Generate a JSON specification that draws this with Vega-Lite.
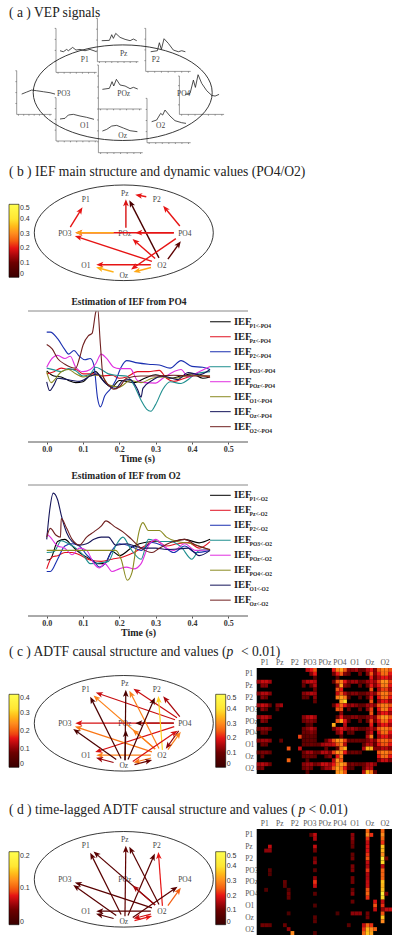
{
"$schema":"https://vega.github.io/schema/vega-lite/v6.json",
"padding":0,
"background":"white",
"bounds":"flush",
"spacing":0,
"config":{"view":{"stroke":null},"axis":{"grid":false}},
"datasets":{
"nodes":[{"ch":"P1","x":-38,"y":33},{"ch":"Pz","x":1,"y":39},{"ch":"P2","x":33,"y":33},{"ch":"PO3","x":-59,"y":-1},{"ch":"POz","x":1,"y":-1},{"ch":"PO4","x":61,"y":-1},{"ch":"O1","x":-38,"y":-33},{"ch":"Oz","x":0,"y":-43},{"ch":"O2","x":38,"y":-33}],
"chan":[{"ch":"P1","ox":-66.7,"oy":20.3,"L":122,"H":132},{"ch":"Pz","ox":-25.3,"oy":31,"L":123,"H":130},{"ch":"P2","ox":23,"oy":21.3,"L":135,"H":129},{"ch":"PO3","ox":-106,"oy":-21.7,"L":105,"H":131},{"ch":"POz","ox":-24.3,"oy":-16.3,"L":130,"H":132},{"ch":"PO4","ox":56.7,"oy":-21.7,"L":134,"H":115},{"ch":"O1","ox":-66.7,"oy":-48.3,"L":124,"H":130},{"ch":"O2","ox":24.3,"oy":-50,"L":131,"H":133},{"ch":"Oz","ox":-24.3,"oy":-60,"L":133,"H":131}],
"vep":[
{"ch":"P1","t":12,"v":65},{"ch":"P1","t":22,"v":62},{"ch":"P1","t":32,"v":69},{"ch":"P1","t":37,"v":65},{"ch":"P1","t":50,"v":75},{"ch":"P1","t":60,"v":67},{"ch":"P1","t":72,"v":69},{"ch":"P1","t":87,"v":65},{"ch":"P1","t":102,"v":69},{"ch":"P1","t":122,"v":62},
{"ch":"Pz","t":13,"v":63},{"ch":"Pz","t":36,"v":64},{"ch":"Pz","t":43,"v":81},{"ch":"Pz","t":48,"v":70},{"ch":"Pz","t":55,"v":85},{"ch":"Pz","t":68,"v":73},{"ch":"Pz","t":83,"v":67},{"ch":"Pz","t":98,"v":63},{"ch":"Pz","t":108,"v":68},{"ch":"Pz","t":118,"v":63},
{"ch":"P2","t":15,"v":59},{"ch":"P2","t":35,"v":62},{"ch":"P2","t":41,"v":86},{"ch":"P2","t":47,"v":66},{"ch":"P2","t":55,"v":98},{"ch":"P2","t":68,"v":84},{"ch":"P2","t":83,"v":64},{"ch":"P2","t":98,"v":59},{"ch":"P2","t":108,"v":62},{"ch":"P2","t":119,"v":59},
{"ch":"PO3","t":15,"v":61},{"ch":"PO3","t":30,"v":67},{"ch":"PO3","t":45,"v":73},{"ch":"PO3","t":60,"v":71},{"ch":"PO3","t":80,"v":68},{"ch":"PO3","t":100,"v":65},{"ch":"PO3","t":115,"v":61},
{"ch":"POz","t":12,"v":59},{"ch":"POz","t":33,"v":62},{"ch":"POz","t":41,"v":82},{"ch":"POz","t":46,"v":69},{"ch":"POz","t":54,"v":89},{"ch":"POz","t":65,"v":72},{"ch":"POz","t":80,"v":69},{"ch":"POz","t":95,"v":61},{"ch":"POz","t":105,"v":65},{"ch":"POz","t":118,"v":60},
{"ch":"PO4","t":17,"v":60},{"ch":"PO4","t":32,"v":63},{"ch":"PO4","t":42,"v":103},{"ch":"PO4","t":48,"v":81},{"ch":"PO4","t":56,"v":119},{"ch":"PO4","t":67,"v":93},{"ch":"PO4","t":82,"v":71},{"ch":"PO4","t":97,"v":57},{"ch":"PO4","t":107,"v":55},{"ch":"PO4","t":119,"v":60},
{"ch":"O1","t":12,"v":66},{"ch":"O1","t":27,"v":68},{"ch":"O1","t":37,"v":78},{"ch":"O1","t":52,"v":80},{"ch":"O1","t":72,"v":75},{"ch":"O1","t":92,"v":71},{"ch":"O1","t":114,"v":65},
{"ch":"O2","t":14,"v":63},{"ch":"O2","t":29,"v":68},{"ch":"O2","t":41,"v":88},{"ch":"O2","t":47,"v":83},{"ch":"O2","t":54,"v":98},{"ch":"O2","t":69,"v":80},{"ch":"O2","t":84,"v":66},{"ch":"O2","t":104,"v":60},{"ch":"O2","t":117,"v":58},
{"ch":"Oz","t":12,"v":65},{"ch":"Oz","t":25,"v":70},{"ch":"Oz","t":40,"v":80},{"ch":"Oz","t":55,"v":82},{"ch":"Oz","t":75,"v":74},{"ch":"Oz","t":95,"v":66},{"ch":"Oz","t":117,"v":63}],
"e_b":[{"from":"PO3","to":"P1","v":0.2},{"from":"POz","to":"Pz","v":0.19},{"from":"O2","to":"Pz","v":0.04},{"from":"P2","to":"Pz","v":0.2},{"from":"PO4","to":"P2","v":0.2},{"from":"PO4","to":"PO3","v":0.2},{"from":"POz","to":"PO3","v":0.33},{"from":"PO4","to":"POz","v":0.2},{"from":"O2","to":"PO3","v":0.2},{"from":"O2","to":"POz","v":0.2},{"from":"PO4","to":"Oz","v":0.2},{"from":"O2","to":"PO4","v":0.07},{"from":"O2","to":"O1","v":0.2},{"from":"O2","to":"Oz","v":0.33},{"from":"Oz","to":"O1","v":0.34}],
"e_c":[{"from":"PO4","to":"P1","v":0.14},{"from":"PO4","to":"Pz","v":0.14},{"from":"PO4","to":"P2","v":0.12},{"from":"PO4","to":"POz","v":0.03},{"from":"PO4","to":"PO3","v":0.15},{"from":"PO4","to":"O1","v":0.15},{"from":"PO4","to":"O2","v":0.1},{"from":"O2","to":"PO4","v":0.23},{"from":"O2","to":"P2","v":0.3},{"from":"O2","to":"Pz","v":0.23},{"from":"O2","to":"POz","v":0.23},{"from":"O2","to":"P1","v":0.23},{"from":"O2","to":"PO3","v":0.22},{"from":"O2","to":"O1","v":0.23},{"from":"O2","to":"Oz","v":0.22},{"from":"Oz","to":"PO3","v":0.03},{"from":"Oz","to":"P1","v":0.03},{"from":"Oz","to":"Pz","v":0.03},{"from":"Oz","to":"P2","v":0.03},{"from":"Oz","to":"POz","v":0.02},{"from":"Oz","to":"PO4","v":0.15},{"from":"Oz","to":"O2","v":0.07},{"from":"Oz","to":"O1","v":0.11}],
"e_d":[{"from":"Oz","to":"P1","v":0.025},{"from":"Oz","to":"Pz","v":0.03},{"from":"Oz","to":"P2","v":0.025},{"from":"Oz","to":"PO3","v":0.025},{"from":"O2","to":"PO3","v":0.025},{"from":"O2","to":"P1","v":0.025},{"from":"O2","to":"Pz","v":0.025},{"from":"O2","to":"POz","v":0.06},{"from":"O2","to":"P2","v":0.08},{"from":"O2","to":"PO4","v":0.1},{"from":"Oz","to":"PO4","v":0.025},{"from":"Oz","to":"O1","v":0.025},{"from":"O2","to":"O1","v":0.025},{"from":"Oz","to":"O2","v":0.08},{"from":"O2","to":"Oz","v":0.07}],
"po4":[
{"s":"P1","t":0,"v":0.12},{"s":"P1","t":0.02,"v":0},{"s":"P1","t":0.04,"v":-0.02},{"s":"P1","t":0.06,"v":-0.1},{"s":"P1","t":0.08,"v":-0.15},{"s":"P1","t":0.1,"v":-0.13},{"s":"P1","t":0.12,"v":0.03},{"s":"P1","t":0.135,"v":0.1},{"s":"P1","t":0.15,"v":-0.05},{"s":"P1","t":0.18,"v":-0.25},{"s":"P1","t":0.2,"v":-0.1},{"s":"P1","t":0.24,"v":-0.15},{"s":"P1","t":0.27,"v":-0.05},{"s":"P1","t":0.3,"v":0.03},{"s":"P1","t":0.34,"v":-0.05},{"s":"P1","t":0.37,"v":0},{"s":"P1","t":0.4,"v":0.05},{"s":"P1","t":0.43,"v":-0.05},{"s":"P1","t":0.45,"v":-0.02},
{"s":"Pz","t":0,"v":0.05},{"s":"Pz","t":0.02,"v":0.1},{"s":"Pz","t":0.04,"v":0.18},{"s":"Pz","t":0.06,"v":0.15},{"s":"Pz","t":0.08,"v":0.15},{"s":"Pz","t":0.1,"v":0.05},{"s":"Pz","t":0.13,"v":0.05},{"s":"Pz","t":0.15,"v":0},{"s":"Pz","t":0.18,"v":0.02},{"s":"Pz","t":0.2,"v":-0.05},{"s":"Pz","t":0.22,"v":-0.02},{"s":"Pz","t":0.25,"v":0.1},{"s":"Pz","t":0.28,"v":0.1},{"s":"Pz","t":0.31,"v":0.13},{"s":"Pz","t":0.33,"v":-0.05},{"s":"Pz","t":0.35,"v":-0.12},{"s":"Pz","t":0.38,"v":-0.05},{"s":"Pz","t":0.41,"v":0.02},{"s":"Pz","t":0.45,"v":-0.02},
{"s":"P2","t":0,"v":1},{"s":"P2","t":0.01,"v":1},{"s":"P2","t":0.03,"v":0.85},{"s":"P2","t":0.05,"v":0.6},{"s":"P2","t":0.06,"v":0.5},{"s":"P2","t":0.075,"v":0.58},{"s":"P2","t":0.09,"v":0.45},{"s":"P2","t":0.105,"v":0.37},{"s":"P2","t":0.12,"v":0.4},{"s":"P2","t":0.13,"v":0.25},{"s":"P2","t":0.14,"v":-0.5},{"s":"P2","t":0.148,"v":-0.7},{"s":"P2","t":0.16,"v":-0.45},{"s":"P2","t":0.175,"v":-0.3},{"s":"P2","t":0.19,"v":-0.1},{"s":"P2","t":0.205,"v":0.2},{"s":"P2","t":0.22,"v":0.35},{"s":"P2","t":0.25,"v":0.3},{"s":"P2","t":0.28,"v":0.27},{"s":"P2","t":0.31,"v":0.25},{"s":"P2","t":0.34,"v":0.18},{"s":"P2","t":0.37,"v":0.35},{"s":"P2","t":0.4,"v":0.22},{"s":"P2","t":0.43,"v":0.2},{"s":"P2","t":0.45,"v":0.15},
{"s":"PO3","t":0,"v":0.18},{"s":"PO3","t":0.02,"v":0.14},{"s":"PO3","t":0.04,"v":0.1},{"s":"PO3","t":0.06,"v":0.17},{"s":"PO3","t":0.08,"v":0.12},{"s":"PO3","t":0.1,"v":0},{"s":"PO3","t":0.12,"v":0.05},{"s":"PO3","t":0.135,"v":0.2},{"s":"PO3","t":0.15,"v":0.15},{"s":"PO3","t":0.17,"v":0.05},{"s":"PO3","t":0.19,"v":0.02},{"s":"PO3","t":0.22,"v":0},{"s":"PO3","t":0.24,"v":-0.2},{"s":"PO3","t":0.26,"v":-0.55},{"s":"PO3","t":0.275,"v":-0.75},{"s":"PO3","t":0.287,"v":-0.8},{"s":"PO3","t":0.3,"v":-0.65},{"s":"PO3","t":0.32,"v":-0.3},{"s":"PO3","t":0.34,"v":-0.13},{"s":"PO3","t":0.37,"v":-0.17},{"s":"PO3","t":0.39,"v":-0.08},{"s":"PO3","t":0.41,"v":0.05},{"s":"PO3","t":0.45,"v":0.1},
{"s":"POz","t":0,"v":0.2},{"s":"POz","t":0.01,"v":0.35},{"s":"POz","t":0.03,"v":0.47},{"s":"POz","t":0.05,"v":0.4},{"s":"POz","t":0.065,"v":0.45},{"s":"POz","t":0.08,"v":0.2},{"s":"POz","t":0.1,"v":0.1},{"s":"POz","t":0.12,"v":0.15},{"s":"POz","t":0.135,"v":0.28},{"s":"POz","t":0.15,"v":0.5},{"s":"POz","t":0.165,"v":0.4},{"s":"POz","t":0.185,"v":0.2},{"s":"POz","t":0.2,"v":0.17},{"s":"POz","t":0.23,"v":0.17},{"s":"POz","t":0.25,"v":-0.1},{"s":"POz","t":0.27,"v":-0.15},{"s":"POz","t":0.3,"v":-0.16},{"s":"POz","t":0.32,"v":-0.05},{"s":"POz","t":0.35,"v":0.1},{"s":"POz","t":0.37,"v":0.15},{"s":"POz","t":0.39,"v":-0.02},{"s":"POz","t":0.42,"v":0.1},{"s":"POz","t":0.45,"v":0.22},
{"s":"O1","t":0,"v":0.1},{"s":"O1","t":0.012,"v":-0.15},{"s":"O1","t":0.025,"v":-0.05},{"s":"O1","t":0.04,"v":0.1},{"s":"O1","t":0.06,"v":0.15},{"s":"O1","t":0.08,"v":0.05},{"s":"O1","t":0.1,"v":-0.02},{"s":"O1","t":0.13,"v":0.02},{"s":"O1","t":0.15,"v":0.02},{"s":"O1","t":0.17,"v":-0.2},{"s":"O1","t":0.2,"v":-0.25},{"s":"O1","t":0.23,"v":-0.1},{"s":"O1","t":0.26,"v":-0.15},{"s":"O1","t":0.29,"v":-0.05},{"s":"O1","t":0.32,"v":-0.02},{"s":"O1","t":0.35,"v":-0.05},{"s":"O1","t":0.4,"v":0.02},{"s":"O1","t":0.45,"v":0},
{"s":"Oz","t":0,"v":-0.13},{"s":"Oz","t":0.008,"v":-0.33},{"s":"Oz","t":0.02,"v":-0.2},{"s":"Oz","t":0.03,"v":-0.05},{"s":"Oz","t":0.05,"v":-0.07},{"s":"Oz","t":0.07,"v":-0.1},{"s":"Oz","t":0.09,"v":-0.12},{"s":"Oz","t":0.12,"v":0},{"s":"Oz","t":0.14,"v":0.05},{"s":"Oz","t":0.16,"v":-0.15},{"s":"Oz","t":0.19,"v":-0.28},{"s":"Oz","t":0.21,"v":-0.1},{"s":"Oz","t":0.23,"v":-0.08},{"s":"Oz","t":0.25,"v":-0.3},{"s":"Oz","t":0.26,"v":-0.48},{"s":"Oz","t":0.265,"v":-0.28},{"s":"Oz","t":0.29,"v":-0.1},{"s":"Oz","t":0.32,"v":0},{"s":"Oz","t":0.36,"v":-0.08},{"s":"Oz","t":0.39,"v":0.08},{"s":"Oz","t":0.42,"v":0.03},{"s":"Oz","t":0.45,"v":0.15},
{"s":"O2","t":0,"v":0.72},{"s":"O2","t":0.015,"v":0.62},{"s":"O2","t":0.03,"v":0.4},{"s":"O2","t":0.05,"v":0.27},{"s":"O2","t":0.08,"v":0.18},{"s":"O2","t":0.09,"v":0.4},{"s":"O2","t":0.1,"v":0.7},{"s":"O2","t":0.115,"v":0.92},{"s":"O2","t":0.125,"v":0.97},{"s":"O2","t":0.135,"v":1.45},{"s":"O2","t":0.14,"v":1.55},{"s":"O2","t":0.148,"v":0.7},{"s":"O2","t":0.155,"v":0},{"s":"O2","t":0.17,"v":-0.2},{"s":"O2","t":0.185,"v":-0.3},{"s":"O2","t":0.2,"v":-0.25},{"s":"O2","t":0.22,"v":-0.05},{"s":"O2","t":0.26,"v":0},{"s":"O2","t":0.3,"v":0},{"s":"O2","t":0.35,"v":0.02},{"s":"O2","t":0.4,"v":0},{"s":"O2","t":0.45,"v":0}],
"o2":[
{"s":"P1","t":0,"v":-0.22},{"s":"P1","t":0.01,"v":-0.2},{"s":"P1","t":0.03,"v":0.2},{"s":"P1","t":0.05,"v":0.25},{"s":"P1","t":0.07,"v":0.1},{"s":"P1","t":0.09,"v":-0.05},{"s":"P1","t":0.12,"v":-0.2},{"s":"P1","t":0.14,"v":-0.3},{"s":"P1","t":0.16,"v":-0.3},{"s":"P1","t":0.18,"v":-0.02},{"s":"P1","t":0.2,"v":-0.12},{"s":"P1","t":0.24,"v":0.1},{"s":"P1","t":0.27,"v":0.18},{"s":"P1","t":0.3,"v":0.2},{"s":"P1","t":0.34,"v":0.2},{"s":"P1","t":0.38,"v":0.25},{"s":"P1","t":0.42,"v":0.17},{"s":"P1","t":0.45,"v":0.25},
{"s":"Pz","t":0,"v":-0.42},{"s":"Pz","t":0.015,"v":-0.15},{"s":"Pz","t":0.03,"v":-0.12},{"s":"Pz","t":0.05,"v":-0.05},{"s":"Pz","t":0.07,"v":-0.05},{"s":"Pz","t":0.09,"v":-0.1},{"s":"Pz","t":0.12,"v":-0.22},{"s":"Pz","t":0.15,"v":-0.25},{"s":"Pz","t":0.18,"v":-0.2},{"s":"Pz","t":0.21,"v":-0.15},{"s":"Pz","t":0.24,"v":-0.05},{"s":"Pz","t":0.27,"v":0.1},{"s":"Pz","t":0.3,"v":0.22},{"s":"Pz","t":0.33,"v":0.1},{"s":"Pz","t":0.36,"v":0.15},{"s":"Pz","t":0.39,"v":0.18},{"s":"Pz","t":0.42,"v":0.05},{"s":"Pz","t":0.45,"v":0.2},
{"s":"P2","t":0,"v":-0.48},{"s":"P2","t":0.01,"v":-0.48},{"s":"P2","t":0.03,"v":-0.2},{"s":"P2","t":0.05,"v":0.1},{"s":"P2","t":0.07,"v":0.15},{"s":"P2","t":0.09,"v":0.1},{"s":"P2","t":0.11,"v":-0.1},{"s":"P2","t":0.13,"v":-0.25},{"s":"P2","t":0.145,"v":-0.38},{"s":"P2","t":0.165,"v":-0.25},{"s":"P2","t":0.18,"v":0},{"s":"P2","t":0.2,"v":0.15},{"s":"P2","t":0.23,"v":0.1},{"s":"P2","t":0.26,"v":0},{"s":"P2","t":0.29,"v":0.18},{"s":"P2","t":0.32,"v":0.1},{"s":"P2","t":0.35,"v":-0.05},{"s":"P2","t":0.38,"v":0.1},{"s":"P2","t":0.41,"v":-0.05},{"s":"P2","t":0.45,"v":0},
{"s":"PO3","t":0,"v":-0.05},{"s":"PO3","t":0.02,"v":-0.03},{"s":"PO3","t":0.04,"v":0.22},{"s":"PO3","t":0.06,"v":0.15},{"s":"PO3","t":0.08,"v":0.05},{"s":"PO3","t":0.1,"v":-0.1},{"s":"PO3","t":0.12,"v":-0.3},{"s":"PO3","t":0.15,"v":-0.28},{"s":"PO3","t":0.17,"v":-0.25},{"s":"PO3","t":0.19,"v":0.1},{"s":"PO3","t":0.21,"v":0.3},{"s":"PO3","t":0.23,"v":0.05},{"s":"PO3","t":0.26,"v":-0.2},{"s":"PO3","t":0.28,"v":0.25},{"s":"PO3","t":0.31,"v":0.2},{"s":"PO3","t":0.34,"v":0.2},{"s":"PO3","t":0.37,"v":0.08},{"s":"PO3","t":0.4,"v":-0.2},{"s":"PO3","t":0.42,"v":0},{"s":"PO3","t":0.45,"v":0.02},
{"s":"POz","t":0,"v":0.38},{"s":"POz","t":0.01,"v":0.3},{"s":"POz","t":0.03,"v":0.1},{"s":"POz","t":0.05,"v":0.05},{"s":"POz","t":0.07,"v":-0.1},{"s":"POz","t":0.09,"v":0.05},{"s":"POz","t":0.11,"v":0},{"s":"POz","t":0.13,"v":-0.3},{"s":"POz","t":0.145,"v":-0.4},{"s":"POz","t":0.16,"v":-0.3},{"s":"POz","t":0.18,"v":-0.48},{"s":"POz","t":0.2,"v":-0.42},{"s":"POz","t":0.22,"v":-0.38},{"s":"POz","t":0.24,"v":-0.42},{"s":"POz","t":0.26,"v":-0.3},{"s":"POz","t":0.28,"v":0.1},{"s":"POz","t":0.3,"v":0.25},{"s":"POz","t":0.33,"v":0.05},{"s":"POz","t":0.35,"v":0},{"s":"POz","t":0.38,"v":0.15},{"s":"POz","t":0.41,"v":0},{"s":"POz","t":0.45,"v":0.02},
{"s":"PO4","t":0,"v":0},{"s":"PO4","t":0.1,"v":0},{"s":"PO4","t":0.19,"v":0},{"s":"PO4","t":0.205,"v":-0.2},{"s":"PO4","t":0.222,"v":-0.68},{"s":"PO4","t":0.235,"v":-0.5},{"s":"PO4","t":0.245,"v":0},{"s":"PO4","t":0.255,"v":0.45},{"s":"PO4","t":0.265,"v":0.63},{"s":"PO4","t":0.28,"v":0.45},{"s":"PO4","t":0.31,"v":0.45},{"s":"PO4","t":0.33,"v":0.3},{"s":"PO4","t":0.36,"v":0.2},{"s":"PO4","t":0.4,"v":0.15},{"s":"PO4","t":0.45,"v":0},
{"s":"O1","t":0,"v":0.25},{"s":"O1","t":0.008,"v":0.9},{"s":"O1","t":0.018,"v":1.3},{"s":"O1","t":0.03,"v":1.15},{"s":"O1","t":0.04,"v":0.8},{"s":"O1","t":0.055,"v":0.4},{"s":"O1","t":0.07,"v":0.2},{"s":"O1","t":0.09,"v":0.12},{"s":"O1","t":0.11,"v":0.15},{"s":"O1","t":0.13,"v":0.25},{"s":"O1","t":0.15,"v":0.3},{"s":"O1","t":0.17,"v":0.3},{"s":"O1","t":0.19,"v":0.12},{"s":"O1","t":0.22,"v":0.15},{"s":"O1","t":0.25,"v":0.08},{"s":"O1","t":0.27,"v":0.05},{"s":"O1","t":0.3,"v":0.05},{"s":"O1","t":0.33,"v":0.02},{"s":"O1","t":0.36,"v":0.03},{"s":"O1","t":0.39,"v":0.05},{"s":"O1","t":0.42,"v":-0.12},{"s":"O1","t":0.45,"v":0},
{"s":"Oz","t":0,"v":0.3},{"s":"Oz","t":0.01,"v":0.5},{"s":"Oz","t":0.025,"v":0.35},{"s":"Oz","t":0.038,"v":0.3},{"s":"Oz","t":0.04,"v":0.72},{"s":"Oz","t":0.055,"v":0.5},{"s":"Oz","t":0.07,"v":0.25},{"s":"Oz","t":0.09,"v":0.12},{"s":"Oz","t":0.11,"v":0.3},{"s":"Oz","t":0.13,"v":0.42},{"s":"Oz","t":0.15,"v":0.55},{"s":"Oz","t":0.163,"v":0.67},{"s":"Oz","t":0.185,"v":0.55},{"s":"Oz","t":0.21,"v":0.42},{"s":"Oz","t":0.23,"v":0.28},{"s":"Oz","t":0.26,"v":0.05},{"s":"Oz","t":0.29,"v":-0.05},{"s":"Oz","t":0.31,"v":0.05},{"s":"Oz","t":0.35,"v":0.2},{"s":"Oz","t":0.38,"v":0.25},{"s":"Oz","t":0.41,"v":0.12},{"s":"Oz","t":0.45,"v":0.02}],
"leg1":[{"s":"P1","sub":"P1<-PO4","v":1.235},{"s":"Pz","sub":"Pz<-PO4","v":0.894},{"s":"P2","sub":"P2<-PO4","v":0.553},{"s":"PO3","sub":"PO3<-PO4","v":0.212},{"s":"POz","sub":"POz<-PO4","v":-0.129},{"s":"O1","sub":"O1<-PO4","v":-0.47},{"s":"Oz","sub":"Oz<-PO4","v":-0.81},{"s":"O2","sub":"O2<-PO4","v":-1.152}],
"leg2":[{"s":"P1","sub":"P1<-O2","v":1.25},{"s":"Pz","sub":"Pz<-O2","v":0.91},{"s":"P2","sub":"P2<-O2","v":0.57},{"s":"PO3","sub":"PO3<-O2","v":0.23},{"s":"POz","sub":"POz<-O2","v":-0.11},{"s":"PO4","sub":"PO4<-O2","v":-0.45},{"s":"O1","sub":"O1<-O2","v":-0.79},{"s":"Oz","sub":"Oz<-O2","v":-1.13}],
"hc":[
{"x":13,"y":0,"v":0.2},{"x":14,"y":0,"v":0.25},{"x":15,"y":0,"v":0.3},{"x":14,"y":1,"v":0.15},{"x":15,"y":1,"v":0.25},{"x":15,"y":2,"v":0.08},
{"x":20,"y":0,"v":0.25},{"x":21,"y":0,"v":0.35},{"x":22,"y":0,"v":0.4},{"x":23,"y":0,"v":0.3},{"x":20,"y":1,"v":0.12},{"x":21,"y":1,"v":0.25},{"x":22,"y":1,"v":0.3},{"x":23,"y":1,"v":0.15},{"x":21,"y":2,"v":0.08},
{"x":24,"y":0,"v":0.15},{"x":25,"y":0,"v":0.15},{"x":26,"y":0,"v":0.18},{"x":27,"y":0,"v":0.1},{"x":24,"y":1,"v":0.1},{"x":27,"y":1,"v":0.12},
{"x":28,"y":0,"v":0.1},{"x":29,"y":0,"v":0.2},{"x":30,"y":0,"v":0.25},{"x":31,"y":0,"v":0.15},{"x":29,"y":1,"v":0.15},{"x":30,"y":1,"v":0.3},{"x":31,"y":1,"v":0.15},{"x":30,"y":2,"v":0.25},{"x":31,"y":2,"v":0.1},
{"x":32,"y":0,"v":0.3},{"x":33,"y":0,"v":0.35},{"x":34,"y":0,"v":0.35},{"x":35,"y":0,"v":0.3},{"x":32,"y":1,"v":0.25},{"x":33,"y":1,"v":0.33},{"x":34,"y":1,"v":0.33},{"x":35,"y":1,"v":0.25},{"x":32,"y":2,"v":0.2},{"x":33,"y":2,"v":0.25},{"x":34,"y":2,"v":0.25},{"x":35,"y":2,"v":0.2},
{"x":0,"y":3,"v":0.18},{"x":1,"y":3,"v":0.22},{"x":2,"y":3,"v":0.22},{"x":3,"y":3,"v":0.18},{"x":1,"y":4,"v":0.15},{"x":2,"y":4,"v":0.15},
{"x":12,"y":3,"v":0.15},{"x":13,"y":3,"v":0.2},{"x":14,"y":3,"v":0.22},{"x":15,"y":3,"v":0.2},{"x":12,"y":4,"v":0.1},{"x":14,"y":4,"v":0.1},{"x":15,"y":4,"v":0.2},{"x":15,"y":5,"v":0.12},
{"x":20,"y":3,"v":0.1},{"x":21,"y":3,"v":0.3},{"x":22,"y":3,"v":0.35},{"x":23,"y":3,"v":0.25},{"x":21,"y":4,"v":0.15},{"x":22,"y":4,"v":0.4},{"x":23,"y":4,"v":0.15},{"x":21,"y":5,"v":0.3},{"x":22,"y":5,"v":0.25},
{"x":24,"y":3,"v":0.15},{"x":25,"y":3,"v":0.18},{"x":26,"y":3,"v":0.18},{"x":27,"y":3,"v":0.1},{"x":24,"y":4,"v":0.1},{"x":27,"y":4,"v":0.1},
{"x":28,"y":3,"v":0.12},{"x":29,"y":3,"v":0.18},{"x":30,"y":3,"v":0.22},{"x":31,"y":3,"v":0.18},{"x":29,"y":4,"v":0.12},{"x":30,"y":4,"v":0.25},{"x":31,"y":4,"v":0.15},{"x":30,"y":5,"v":0.3},
{"x":32,"y":3,"v":0.28},{"x":33,"y":3,"v":0.38},{"x":34,"y":3,"v":0.38},{"x":35,"y":3,"v":0.28},{"x":32,"y":4,"v":0.25},{"x":33,"y":4,"v":0.35},{"x":34,"y":4,"v":0.35},{"x":35,"y":4,"v":0.25},{"x":32,"y":5,"v":0.2},{"x":33,"y":5,"v":0.28},{"x":34,"y":5,"v":0.28},{"x":35,"y":5,"v":0.2},
{"x":0,"y":6,"v":0.15},{"x":1,"y":6,"v":0.2},{"x":2,"y":6,"v":0.2},{"x":3,"y":6,"v":0.15},{"x":1,"y":7,"v":0.15},{"x":2,"y":7,"v":0.12},
{"x":12,"y":6,"v":0.15},{"x":13,"y":6,"v":0.18},{"x":14,"y":6,"v":0.2},{"x":15,"y":6,"v":0.18},{"x":12,"y":7,"v":0.1},{"x":13,"y":7,"v":0.1},{"x":15,"y":7,"v":0.15},{"x":15,"y":8,"v":0.1},
{"x":21,"y":6,"v":0.22},{"x":22,"y":6,"v":0.3},{"x":23,"y":6,"v":0.2},{"x":21,"y":7,"v":0.35},{"x":22,"y":7,"v":0.4},{"x":23,"y":7,"v":0.35},{"x":22,"y":8,"v":0.4},{"x":23,"y":8,"v":0.48},
{"x":24,"y":6,"v":0.12},{"x":25,"y":6,"v":0.15},{"x":26,"y":6,"v":0.15},{"x":27,"y":6,"v":0.1},{"x":24,"y":7,"v":0.08},{"x":27,"y":7,"v":0.08},
{"x":28,"y":6,"v":0.1},{"x":29,"y":6,"v":0.15},{"x":30,"y":6,"v":0.2},{"x":31,"y":6,"v":0.15},{"x":29,"y":7,"v":0.1},{"x":30,"y":7,"v":0.25},{"x":30,"y":8,"v":0.3},
{"x":32,"y":6,"v":0.28},{"x":33,"y":6,"v":0.35},{"x":34,"y":6,"v":0.35},{"x":35,"y":6,"v":0.28},{"x":32,"y":7,"v":0.25},{"x":33,"y":7,"v":0.33},{"x":34,"y":7,"v":0.33},{"x":35,"y":7,"v":0.25},{"x":32,"y":8,"v":0.18},{"x":33,"y":8,"v":0.25},{"x":34,"y":8,"v":0.25},{"x":35,"y":8,"v":0.18},
{"x":0,"y":9,"v":0.18},{"x":1,"y":9,"v":0.22},{"x":2,"y":9,"v":0.2},{"x":3,"y":9,"v":0.12},{"x":1,"y":10,"v":0.15},{"x":2,"y":10,"v":0.1},{"x":5,"y":9,"v":0.15},{"x":6,"y":9,"v":0.18},{"x":5,"y":10,"v":0.08},
{"x":20,"y":9,"v":0.1},{"x":21,"y":9,"v":0.25},{"x":22,"y":9,"v":0.32},{"x":23,"y":9,"v":0.25},{"x":21,"y":10,"v":0.3},{"x":22,"y":10,"v":0.3},{"x":22,"y":11,"v":0.15},
{"x":24,"y":9,"v":0.15},{"x":25,"y":9,"v":0.18},{"x":26,"y":9,"v":0.15},{"x":27,"y":9,"v":0.1},{"x":24,"y":10,"v":0.1},{"x":27,"y":10,"v":0.1},
{"x":28,"y":9,"v":0.1},{"x":29,"y":9,"v":0.18},{"x":30,"y":9,"v":0.2},{"x":31,"y":9,"v":0.15},{"x":29,"y":10,"v":0.15},{"x":30,"y":10,"v":0.28},{"x":30,"y":11,"v":0.3},
{"x":32,"y":9,"v":0.3},{"x":33,"y":9,"v":0.35},{"x":34,"y":9,"v":0.35},{"x":35,"y":9,"v":0.3},{"x":32,"y":10,"v":0.25},{"x":33,"y":10,"v":0.35},{"x":34,"y":10,"v":0.35},{"x":35,"y":10,"v":0.25},{"x":32,"y":11,"v":0.18},{"x":33,"y":11,"v":0.25},{"x":34,"y":11,"v":0.25},{"x":35,"y":11,"v":0.18},
{"x":0,"y":12,"v":0.15},{"x":1,"y":12,"v":0.2},{"x":2,"y":12,"v":0.2},{"x":3,"y":12,"v":0.15},{"x":1,"y":13,"v":0.15},{"x":2,"y":13,"v":0.12},
{"x":12,"y":12,"v":0.15},{"x":13,"y":12,"v":0.2},{"x":14,"y":12,"v":0.22},{"x":15,"y":12,"v":0.18},{"x":12,"y":13,"v":0.12},{"x":13,"y":13,"v":0.15},{"x":14,"y":13,"v":0.15},{"x":15,"y":13,"v":0.12},{"x":13,"y":14,"v":0.05},{"x":14,"y":14,"v":0.08},
{"x":21,"y":12,"v":0.1},{"x":22,"y":12,"v":0.25},{"x":23,"y":12,"v":0.12},{"x":21,"y":13,"v":0.3},{"x":22,"y":13,"v":0.4},{"x":23,"y":13,"v":0.25},{"x":20,"y":14,"v":0.42},{"x":23,"y":14,"v":0.2},
{"x":24,"y":12,"v":0.12},{"x":25,"y":12,"v":0.15},{"x":26,"y":12,"v":0.15},{"x":27,"y":12,"v":0.1},{"x":24,"y":13,"v":0.08},{"x":27,"y":13,"v":0.1},
{"x":28,"y":12,"v":0.1},{"x":29,"y":12,"v":0.15},{"x":30,"y":12,"v":0.2},{"x":31,"y":12,"v":0.15},{"x":29,"y":13,"v":0.12},{"x":30,"y":13,"v":0.28},{"x":31,"y":13,"v":0.12},{"x":30,"y":14,"v":0.25},
{"x":32,"y":12,"v":0.3},{"x":33,"y":12,"v":0.38},{"x":34,"y":12,"v":0.38},{"x":35,"y":12,"v":0.3},{"x":32,"y":13,"v":0.25},{"x":33,"y":13,"v":0.33},{"x":34,"y":13,"v":0.33},{"x":35,"y":13,"v":0.25},{"x":32,"y":14,"v":0.18},{"x":33,"y":14,"v":0.25},{"x":34,"y":14,"v":0.25},{"x":35,"y":14,"v":0.18},
{"x":0,"y":15,"v":0.12},{"x":1,"y":15,"v":0.16},{"x":2,"y":15,"v":0.16},{"x":3,"y":15,"v":0.12},{"x":1,"y":16,"v":0.1},{"x":2,"y":16,"v":0.08},{"x":11,"y":17,"v":0.28},
{"x":12,"y":15,"v":0.12},{"x":13,"y":15,"v":0.16},{"x":14,"y":15,"v":0.2},{"x":15,"y":15,"v":0.16},{"x":12,"y":16,"v":0.12},{"x":13,"y":16,"v":0.12},{"x":14,"y":16,"v":0.15},{"x":15,"y":16,"v":0.12},{"x":12,"y":17,"v":0.08},{"x":13,"y":17,"v":0.1},{"x":14,"y":17,"v":0.1},{"x":15,"y":17,"v":0.08},
{"x":20,"y":15,"v":0.12},{"x":21,"y":15,"v":0.2},{"x":22,"y":15,"v":0.25},{"x":23,"y":15,"v":0.2},{"x":21,"y":16,"v":0.15},{"x":22,"y":16,"v":0.22},{"x":22,"y":17,"v":0.1},
{"x":24,"y":15,"v":0.15},{"x":25,"y":15,"v":0.18},{"x":26,"y":15,"v":0.15},{"x":27,"y":15,"v":0.1},{"x":24,"y":16,"v":0.08},{"x":25,"y":16,"v":0.1},
{"x":28,"y":15,"v":0.1},{"x":29,"y":15,"v":0.15},{"x":30,"y":15,"v":0.2},{"x":31,"y":15,"v":0.15},{"x":29,"y":16,"v":0.15},{"x":30,"y":16,"v":0.22},{"x":29,"y":17,"v":0.2},{"x":30,"y":17,"v":0.35},
{"x":32,"y":15,"v":0.3},{"x":33,"y":15,"v":0.35},{"x":34,"y":15,"v":0.35},{"x":35,"y":15,"v":0.3},{"x":32,"y":16,"v":0.25},{"x":33,"y":16,"v":0.33},{"x":34,"y":16,"v":0.33},{"x":35,"y":16,"v":0.25},{"x":32,"y":17,"v":0.18},{"x":33,"y":17,"v":0.25},{"x":34,"y":17,"v":0.25},{"x":35,"y":17,"v":0.18},
{"x":0,"y":18,"v":0.15},{"x":1,"y":18,"v":0.18},{"x":2,"y":18,"v":0.18},{"x":3,"y":18,"v":0.15},{"x":1,"y":19,"v":0.12},{"x":2,"y":19,"v":0.1},{"x":6,"y":18,"v":0.1},{"x":8,"y":20,"v":0.3},{"x":11,"y":20,"v":0.22},
{"x":12,"y":18,"v":0.08},{"x":13,"y":18,"v":0.1},{"x":14,"y":18,"v":0.1},{"x":15,"y":18,"v":0.08},{"x":12,"y":19,"v":0.1},{"x":13,"y":19,"v":0.1},{"x":14,"y":19,"v":0.12},{"x":15,"y":19,"v":0.1},
{"x":18,"y":18,"v":0.1},{"x":19,"y":18,"v":0.2},{"x":16,"y":19,"v":0.1},{"x":17,"y":19,"v":0.18},{"x":18,"y":19,"v":0.2},{"x":19,"y":19,"v":0.2},{"x":18,"y":20,"v":0.1},
{"x":20,"y":18,"v":0.3},{"x":21,"y":18,"v":0.38},{"x":22,"y":18,"v":0.38},{"x":23,"y":18,"v":0.28},{"x":20,"y":19,"v":0.22},{"x":21,"y":19,"v":0.3},{"x":22,"y":19,"v":0.35},{"x":23,"y":19,"v":0.2},{"x":21,"y":20,"v":0.1},{"x":22,"y":20,"v":0.35},{"x":23,"y":20,"v":0.42},
{"x":24,"y":18,"v":0.12},{"x":25,"y":18,"v":0.12},{"x":26,"y":18,"v":0.12},{"x":27,"y":18,"v":0.12},
{"x":28,"y":18,"v":0.1},{"x":29,"y":18,"v":0.15},{"x":30,"y":18,"v":0.2},{"x":31,"y":18,"v":0.15},{"x":28,"y":19,"v":0.1},{"x":29,"y":19,"v":0.2},{"x":30,"y":19,"v":0.2},{"x":31,"y":19,"v":0.1},{"x":28,"y":20,"v":0.2},{"x":29,"y":20,"v":0.42},{"x":30,"y":20,"v":0.42},{"x":31,"y":20,"v":0.15},
{"x":32,"y":18,"v":0.28},{"x":33,"y":18,"v":0.33},{"x":34,"y":18,"v":0.33},{"x":35,"y":18,"v":0.28},{"x":32,"y":19,"v":0.25},{"x":33,"y":19,"v":0.3},{"x":34,"y":19,"v":0.3},{"x":35,"y":19,"v":0.25},{"x":32,"y":20,"v":0.15},{"x":33,"y":20,"v":0.2},{"x":34,"y":20,"v":0.2},{"x":35,"y":20,"v":0.15},
{"x":0,"y":21,"v":0.1},{"x":1,"y":21,"v":0.14},{"x":2,"y":21,"v":0.14},{"x":3,"y":21,"v":0.1},{"x":1,"y":22,"v":0.1},{"x":8,"y":23,"v":0.32},
{"x":12,"y":21,"v":0.12},{"x":13,"y":21,"v":0.18},{"x":14,"y":21,"v":0.18},{"x":15,"y":21,"v":0.12},{"x":12,"y":22,"v":0.1},{"x":13,"y":22,"v":0.12},{"x":14,"y":22,"v":0.12},{"x":15,"y":22,"v":0.1},{"x":13,"y":23,"v":0.08},
{"x":16,"y":21,"v":0.12},{"x":17,"y":21,"v":0.2},{"x":18,"y":21,"v":0.2},{"x":19,"y":21,"v":0.15},{"x":18,"y":22,"v":0.1},{"x":19,"y":22,"v":0.15},
{"x":20,"y":21,"v":0.28},{"x":21,"y":21,"v":0.38},{"x":22,"y":21,"v":0.38},{"x":23,"y":21,"v":0.25},{"x":21,"y":22,"v":0.25},{"x":22,"y":22,"v":0.35},{"x":20,"y":23,"v":0.2},{"x":21,"y":23,"v":0.38},{"x":22,"y":23,"v":0.3},
{"x":24,"y":21,"v":0.08},{"x":25,"y":21,"v":0.12},{"x":26,"y":21,"v":0.12},{"x":27,"y":21,"v":0.08},
{"x":32,"y":21,"v":0.3},{"x":33,"y":21,"v":0.35},{"x":34,"y":21,"v":0.35},{"x":35,"y":21,"v":0.3},{"x":32,"y":22,"v":0.25},{"x":33,"y":22,"v":0.33},{"x":34,"y":22,"v":0.33},{"x":35,"y":22,"v":0.25},{"x":32,"y":23,"v":0.15},{"x":33,"y":23,"v":0.22},{"x":34,"y":23,"v":0.22},{"x":35,"y":23,"v":0.15},
{"x":0,"y":24,"v":0.18},{"x":1,"y":24,"v":0.2},{"x":2,"y":24,"v":0.18},{"x":3,"y":24,"v":0.12},{"x":0,"y":25,"v":0.12},{"x":1,"y":25,"v":0.14},
{"x":12,"y":24,"v":0.15},{"x":13,"y":24,"v":0.18},{"x":14,"y":24,"v":0.18},{"x":15,"y":24,"v":0.12},{"x":12,"y":25,"v":0.12},{"x":13,"y":25,"v":0.15},{"x":14,"y":25,"v":0.12},{"x":13,"y":26,"v":0.08},
{"x":16,"y":24,"v":0.15},{"x":17,"y":24,"v":0.22},{"x":18,"y":24,"v":0.22},{"x":19,"y":24,"v":0.18},{"x":17,"y":25,"v":0.1},{"x":18,"y":25,"v":0.18},{"x":19,"y":25,"v":0.18},
{"x":20,"y":24,"v":0.25},{"x":21,"y":24,"v":0.35},{"x":22,"y":24,"v":0.4},{"x":23,"y":24,"v":0.35},{"x":20,"y":25,"v":0.3},{"x":21,"y":25,"v":0.4},{"x":22,"y":25,"v":0.35},{"x":23,"y":25,"v":0.25},{"x":21,"y":26,"v":0.38},{"x":22,"y":26,"v":0.4},{"x":23,"y":26,"v":0.3},
{"x":24,"y":24,"v":0.12},{"x":25,"y":24,"v":0.14},{"x":26,"y":24,"v":0.12},{"x":27,"y":24,"v":0.1},{"x":24,"y":25,"v":0.08},{"x":25,"y":25,"v":0.08},
{"x":28,"y":24,"v":0.12},{"x":29,"y":24,"v":0.18},{"x":30,"y":24,"v":0.2},{"x":31,"y":24,"v":0.15},{"x":28,"y":25,"v":0.12},{"x":29,"y":25,"v":0.2},{"x":30,"y":25,"v":0.2},{"x":28,"y":26,"v":0.2},{"x":29,"y":26,"v":0.42},{"x":30,"y":26,"v":0.35},{"x":31,"y":26,"v":0.12}],
"hd":[
{"x":33,"y":0,"v":0.3},{"x":33,"y":1,"v":0.35},{"x":33,"y":2,"v":0.3},{"x":33,"y":3,"v":0.25},{"x":33,"y":4,"v":0.42},{"x":33,"y":5,"v":0.4},{"x":33,"y":6,"v":0.35},{"x":33,"y":7,"v":0.48},{"x":33,"y":8,"v":0.45},{"x":33,"y":9,"v":0.2},{"x":33,"y":10,"v":0.3},{"x":33,"y":11,"v":0.3},{"x":33,"y":12,"v":0.3},{"x":33,"y":13,"v":0.42},{"x":33,"y":14,"v":0.4},{"x":33,"y":15,"v":0.42},{"x":33,"y":16,"v":0.5},{"x":33,"y":17,"v":0.45},{"x":33,"y":18,"v":0.2},{"x":33,"y":19,"v":0.25},{"x":33,"y":20,"v":0.15},{"x":33,"y":21,"v":0.28},{"x":33,"y":22,"v":0.42},{"x":33,"y":23,"v":0.35},
{"x":34,"y":7,"v":0.12},{"x":34,"y":16,"v":0.14},{"x":34,"y":20,"v":0.2},{"x":35,"y":20,"v":0.2},
{"x":29,"y":0,"v":0.3},{"x":29,"y":1,"v":0.35},{"x":30,"y":1,"v":0.25},{"x":29,"y":2,"v":0.25},{"x":29,"y":3,"v":0.2},{"x":29,"y":4,"v":0.22},{"x":29,"y":5,"v":0.22},{"x":29,"y":6,"v":0.25},{"x":29,"y":7,"v":0.28},{"x":29,"y":8,"v":0.2},{"x":29,"y":9,"v":0.18},{"x":29,"y":10,"v":0.25},{"x":29,"y":11,"v":0.18},{"x":29,"y":12,"v":0.18},{"x":29,"y":13,"v":0.2},{"x":29,"y":14,"v":0.2},{"x":29,"y":15,"v":0.28},{"x":29,"y":16,"v":0.3},{"x":29,"y":17,"v":0.25},{"x":31,"y":18,"v":0.22},{"x":31,"y":19,"v":0.28},{"x":31,"y":20,"v":0.2},{"x":29,"y":21,"v":0.12},{"x":29,"y":22,"v":0.12},{"x":28,"y":24,"v":0.2},{"x":29,"y":24,"v":0.3},{"x":30,"y":24,"v":0.25},{"x":28,"y":25,"v":0.25},{"x":29,"y":25,"v":0.4},{"x":30,"y":25,"v":0.35},{"x":31,"y":25,"v":0.3},{"x":28,"y":26,"v":0.3},{"x":29,"y":26,"v":0.42},{"x":30,"y":26,"v":0.38},
{"x":25,"y":1,"v":0.15},{"x":25,"y":2,"v":0.15},{"x":25,"y":3,"v":0.12},{"x":25,"y":4,"v":0.1},{"x":25,"y":6,"v":0.1},{"x":25,"y":7,"v":0.12},{"x":25,"y":9,"v":0.13},{"x":25,"y":10,"v":0.13},{"x":25,"y":12,"v":0.12},{"x":25,"y":13,"v":0.12},{"x":25,"y":15,"v":0.1},{"x":25,"y":16,"v":0.14},{"x":25,"y":18,"v":0.1},{"x":25,"y":21,"v":0.15},{"x":26,"y":21,"v":0.15},{"x":27,"y":21,"v":0.15},{"x":24,"y":24,"v":0.08},
{"x":15,"y":1,"v":0.2},{"x":14,"y":1,"v":0.1},{"x":15,"y":2,"v":0.18},{"x":15,"y":4,"v":0.2},{"x":15,"y":5,"v":0.12},{"x":15,"y":7,"v":0.12},{"x":15,"y":8,"v":0.15},{"x":15,"y":10,"v":0.08},{"x":15,"y":12,"v":0.15},{"x":15,"y":13,"v":0.25},{"x":15,"y":14,"v":0.2},{"x":15,"y":16,"v":0.08},{"x":15,"y":19,"v":0.06},{"x":15,"y":22,"v":0.08},{"x":15,"y":23,"v":0.08},{"x":15,"y":26,"v":0.06},
{"x":3,"y":4,"v":0.2},{"x":3,"y":5,"v":0.15},{"x":2,"y":5,"v":0.15},{"x":3,"y":10,"v":0.08},{"x":3,"y":11,"v":0.06},{"x":2,"y":15,"v":0.06},{"x":1,"y":24,"v":0.12},{"x":2,"y":24,"v":0.12},{"x":3,"y":24,"v":0.1},
{"x":7,"y":13,"v":0.1},{"x":7,"y":14,"v":0.08},{"x":8,"y":15,"v":0.06},{"x":8,"y":16,"v":0.12},{"x":8,"y":17,"v":0.1},{"x":8,"y":21,"v":0.05},{"x":7,"y":24,"v":0.1},{"x":8,"y":25,"v":0.15},{"x":9,"y":26,"v":0.35},{"x":21,"y":21,"v":0.05}]
},
"vconcat":[
{"width":400,"height":160,
 "encoding":{"x":{"field":"x","type":"quantitative","scale":{"domain":[-122.7,277.3],"nice":false,"zero":false},"axis":null},"y":{"field":"y","type":"quantitative","scale":{"domain":[-67.3,92.7],"nice":false,"zero":false},"axis":null}},
 "layer":[
  {"data":{"name":"chan"},"transform":[{"calculate":"datum.ox","as":"x"},{"calculate":"datum.oy","as":"y"},{"calculate":"datum.ox+datum.L/3","as":"x2"}],"mark":{"type":"rule","color":"#555","strokeWidth":0.6},"encoding":{"x2":{"field":"x2"}}},
  {"data":{"name":"chan"},"transform":[{"calculate":"datum.ox","as":"x"},{"calculate":"datum.oy","as":"y"},{"calculate":"datum.oy+datum.H/3","as":"y2"}],"mark":{"type":"rule","color":"#555","strokeWidth":0.6},"encoding":{"y2":{"field":"y2"}}},
  {"data":{"name":"chan"},"transform":[{"calculate":"[0.05,0.2,0.35,0.5,0.65,0.8,0.95]","as":"f"},{"flatten":["f"]},{"calculate":"datum.ox+datum.f*datum.L/3","as":"x"},{"calculate":"datum.oy","as":"y"},{"calculate":"datum.oy-1.3","as":"y2"}],"mark":{"type":"rule","color":"#555","strokeWidth":0.6},"encoding":{"y2":{"field":"y2"}}},
  {"data":{"name":"chan"},"transform":[{"calculate":"[0.25,0.5,0.75,1]","as":"f"},{"flatten":["f"]},{"calculate":"datum.ox","as":"x"},{"calculate":"datum.ox-1.3","as":"x2"},{"calculate":"datum.oy+datum.f*datum.H/3","as":"y"}],"mark":{"type":"rule","color":"#555","strokeWidth":0.6},"encoding":{"x2":{"field":"x2"}}},
  {"data":{"values":[{"x":0,"y":0}]},"mark":{"type":"point","shape":"M-1,0C-1,-.295 -.5523,-.534 0,-.534C.5523,-.534 1,-.295 1,0C1,.295 .5523,.534 0,.534C-.5523,.534 -1,.295 -1,0Z","size":32041,"filled":false,"fill":"transparent","stroke":"#222","strokeWidth":0.9,"opacity":1}},
  {"data":{"name":"vep"},"transform":[{"lookup":"ch","from":{"data":{"name":"chan"},"key":"ch","fields":["ox","oy"]}},{"calculate":"datum.ox+datum.t/3","as":"x"},{"calculate":"datum.oy+datum.v/3","as":"y"}],"mark":{"type":"line","color":"#222","strokeWidth":0.8},"encoding":{"detail":{"field":"ch"}}},
  {"data":{"name":"nodes"},"mark":{"type":"text","font":"Liberation Serif","fontSize":7.5,"color":"#444"},"encoding":{"text":{"field":"ch"}}},
  {"data":{"values":[{"x":-113.7,"y":80,"label":"( a ) VEP signals"}]},"mark":{"type":"text","font":"Liberation Serif","fontSize":13.6,"align":"left","color":"#222"},"encoding":{"text":{"field":"label"}}}
 ]},
{"width":400,"height":130,
 "resolve":{"scale":{"color":"independent"}},
 "layer":[
 {"encoding":{"x":{"field":"x","type":"quantitative","scale":{"domain":[-123.8,276.2],"nice":false,"zero":false},"axis":null},"y":{"field":"y","type":"quantitative","scale":{"domain":[-57.2,72.8],"nice":false,"zero":false},"axis":null}},
 "layer":[
  {"data":{"values":[{"x":0,"y":0}]},"mark":{"type":"point","shape":"M-1,0C-1,-.295 -.5523,-.534 0,-.534C.5523,-.534 1,-.295 1,0C1,.295 .5523,.534 0,.534C-.5523,.534 -1,.295 -1,0Z","size":32041,"filled":false,"fill":"transparent","stroke":"#222","strokeWidth":0.9,"opacity":1}},
  {"data":{"name":"nodes"},"mark":{"type":"text","font":"Liberation Serif","fontSize":7.5,"color":"#444"},"encoding":{"text":{"field":"ch"}}},
  {"data":{"name":"e_b"},
   "transform":[{"lookup":"from","from":{"data":{"name":"nodes"},"key":"ch","fields":["x","y"]},"as":["fx","fy"]},{"lookup":"to","from":{"data":{"name":"nodes"},"key":"ch","fields":["x","y"]},"as":["tx","ty"]},{"calculate":"datum.tx-datum.fx","as":"dx"},{"calculate":"datum.ty-datum.fy","as":"dy"},{"calculate":"sqrt(datum.dx*datum.dx+datum.dy*datum.dy)","as":"d"},{"calculate":"datum.dx/datum.d","as":"ux"},{"calculate":"datum.dy/datum.d","as":"uy"},{"calculate":"datum.fx+datum.ux*(6+5*abs(datum.ux))+datum.uy*1.1","as":"x"},{"calculate":"datum.fy+datum.uy*(6+5*abs(datum.ux))-datum.ux*1.1","as":"y"},{"calculate":"datum.tx-datum.ux*(9+5*abs(datum.ux))+datum.uy*1.1","as":"hx"},{"calculate":"datum.ty-datum.uy*(9+5*abs(datum.ux))-datum.ux*1.1","as":"hy"},{"calculate":"atan2(datum.dx,datum.dy)*180/PI","as":"ang"}],
   "layer":[
    {"mark":{"type":"rule","strokeWidth":1.4},"encoding":{"x2":{"field":"hx"},"y2":{"field":"hy"},"color":{"field":"v","type":"quantitative","scale":{"domain":[0,0.1,0.2,0.3,0.4,0.5],"range":["#000000","#6e0000","#e61414","#ff8c1e","#ffe632","#ffffff"]},"legend":null}}},
    {"mark":{"type":"point","shape":"M0,-1L.8,1L0,.5L-.8,1Z","size":50,"filled":true,"opacity":1},"encoding":{"color":{"field":"v","type":"quantitative","scale":{"domain":[0,0.1,0.2,0.3,0.4,0.5],"range":["#000000","#6e0000","#e61414","#ff8c1e","#ffe632","#ffffff"]},"legend":null},"x":{"field":"hx","type":"quantitative","scale":{"domain":[-123.8,276.2],"nice":false,"zero":false},"axis":null},"y":{"field":"hy","type":"quantitative","scale":{"domain":[-57.2,72.8],"nice":false,"zero":false},"axis":null},"angle":{"field":"ang","type":"quantitative","scale":null}}}
   ]},
  {"data":{"values":[{"x":-114.8,"y":60.8,"label":"( b ) IEF main structure and dynamic values (PO4/O2)"}]},"mark":{"type":"text","font":"Liberation Serif","fontSize":13.6,"align":"left","color":"#222"},"encoding":{"text":{"field":"label"}}}
 ]},
 {"data":{"values":[{"v":0},{"v":0.5}]},"mark":{"type":"rect"},"encoding":{"x":{"value":5},"x2":{"value":5},"y":{"value":5},"y2":{"value":5},"color":{"field":"v","type":"quantitative","scale":{"domain":[0,0.1,0.2,0.3,0.4,0.5],"range":["#000000","#6e0000","#e61414","#ff8c1e","#ffe632","#ffffff"]},"legend":{"orient":"none","legendX":9,"legendY":44.3,"gradientLength":73,"gradientThickness":10,"title":null,"labelFont":"Liberation Sans","labelFontSize":7,"labelColor":"#333","labelOffset":1,"gradientStrokeColor":"#000","gradientStrokeWidth":0.6,"values":[0,0.1,0.2,0.3,0.4,0.5],"format":".1~f"}}}}
 ]},
{"width":20,"height":21,"data":{"values":[{}]},"mark":{"type":"point","opacity":0},"encoding":{}},
{"width":400,"height":131,
  "title":{"text":"Estimation of IEF from PO4","font":"Liberation Serif","fontSize":9.5,"fontWeight":"bold","color":"#222","anchor":"middle","dx":-71,"offset":4},
  "encoding":{"x":{"field":"t","type":"quantitative","scale":{"domain":[-0.1287,0.9733],"nice":false,"zero":false},"axis":{"values":[0,0.1,0.2,0.3,0.4,0.5],"format":".1f","title":"Time (s)","titleFont":"Liberation Serif","titleFontSize":10,"titleFontWeight":"bold","titleColor":"#222","titlePadding":0,"titleX":137,"domain":false,"labelFont":"Liberation Serif","labelFontSize":8,"labelFontWeight":"bold","labelColor":"#333","tickColor":"#555","tickSize":2,"labelPadding":1}},
   "y":{"field":"v","type":"quantitative","scale":{"domain":[-1.5,1.48],"nice":false,"zero":false},"axis":{"offset":-28,"values":[-1,-0.5,0,0.5,1],"format":".1f","title":null,"labelFont":"Liberation Serif","labelFontSize":8,"labelFontWeight":"bold","labelColor":"#333","domainColor":"#555","tickColor":"#555","tickSize":2,"labelPadding":2}}},
  "layer":[
   {"data":{"name":"po4"},"transform":[{"calculate":"{'P1':'#000000','Pz':'#e01020','P2':'#1a2fb0','PO3':'#1f8f8f','POz':'#e030e0','O1':'#8a8a20','Oz':'#14145a','O2':'#702020'}[datum.s]","as":"col"}],"mark":{"type":"line","strokeWidth":1.1,"interpolate":"monotone","clip":true},"encoding":{"detail":{"field":"s"},"color":{"field":"col","type":"nominal","scale":null,"legend":null}}},
   {"data":{"values":[{"t":-0.0515,"v":1.48}]},"mark":{"type":"rule","color":"#888","strokeWidth":1},"encoding":{"x2":{"datum":0.5545}}},
   {"data":{"values":[{"t":-0.0515,"v":-1.5}]},"mark":{"type":"rule","color":"#555","strokeWidth":1},"encoding":{"x2":{"datum":0.5545}}},
   {"data":{"name":"leg1"},"transform":[{"calculate":"0.45","as":"t"},{"calculate":"{'P1':'#000000','Pz':'#e01020','P2':'#1a2fb0','PO3':'#1f8f8f','POz':'#e030e0','O1':'#8a8a20','Oz':'#14145a','O2':'#702020'}[datum.s]","as":"col"}],"mark":{"type":"rule","strokeWidth":1},"encoding":{"x2":{"datum":0.507},"color":{"field":"col","type":"nominal","scale":null,"legend":null}}},
   {"data":{"name":"leg1"},"transform":[{"calculate":"0.516","as":"t"}],"mark":{"type":"text","font":"Liberation Serif","fontSize":10.5,"fontWeight":"bold","align":"left","color":"#222"},"encoding":{"text":{"datum":"IEF"}}},
   {"data":{"name":"leg1"},"transform":[{"calculate":"0.559","as":"t"},{"calculate":"datum.v-0.095","as":"vs"}],"mark":{"type":"text","font":"Liberation Serif","fontSize":5.5,"fontWeight":"bold","align":"left","color":"#222"},"encoding":{"y":{"field":"vs","type":"quantitative","scale":{"domain":[-1.5,1.48],"nice":false,"zero":false},"axis":null},"text":{"field":"sub"}}}
  ]},
{"width":20,"height":43,"data":{"values":[{}]},"mark":{"type":"point","opacity":0},"encoding":{}},
{"width":400,"height":131,
  "title":{"text":"Estimation of IEF from O2","font":"Liberation Serif","fontSize":9.5,"fontWeight":"bold","color":"#222","anchor":"middle","dx":-74,"offset":4},
  "encoding":{"x":{"field":"t","type":"quantitative","scale":{"domain":[-0.1287,0.9733],"nice":false,"zero":false},"axis":{"values":[0,0.1,0.2,0.3,0.4,0.5],"format":".1f","title":"Time (s)","titleFont":"Liberation Serif","titleFontSize":10,"titleFontWeight":"bold","titleColor":"#222","titlePadding":0,"titleX":138,"domain":false,"labelFont":"Liberation Serif","labelFontSize":8,"labelFontWeight":"bold","labelColor":"#333","tickColor":"#555","tickSize":2,"labelPadding":1}},
   "y":{"field":"v","type":"quantitative","scale":{"domain":[-1.49,1.484],"nice":false,"zero":false},"axis":{"offset":-28,"values":[-1,-0.5,0,0.5,1],"format":".1f","title":null,"labelFont":"Liberation Serif","labelFontSize":8,"labelFontWeight":"bold","labelColor":"#333","domainColor":"#555","tickColor":"#555","tickSize":2,"labelPadding":2}}},
  "layer":[
   {"data":{"name":"o2"},"transform":[{"calculate":"{'P1':'#000000','Pz':'#e01020','P2':'#1a2fb0','PO3':'#1f8f8f','POz':'#e030e0','PO4':'#8a8a20','O1':'#14145a','Oz':'#702020'}[datum.s]","as":"col"}],"mark":{"type":"line","strokeWidth":1.1,"interpolate":"monotone","clip":true},"encoding":{"detail":{"field":"s"},"color":{"field":"col","type":"nominal","scale":null,"legend":null}}},
   {"data":{"values":[{"t":-0.0515,"v":1.484}]},"mark":{"type":"rule","color":"#888","strokeWidth":1},"encoding":{"x2":{"datum":0.5545}}},
   {"data":{"values":[{"t":-0.0515,"v":-1.49}]},"mark":{"type":"rule","color":"#555","strokeWidth":1},"encoding":{"x2":{"datum":0.5545}}},
   {"data":{"name":"leg2"},"transform":[{"calculate":"0.45","as":"t"},{"calculate":"{'P1':'#000000','Pz':'#e01020','P2':'#1a2fb0','PO3':'#1f8f8f','POz':'#e030e0','PO4':'#8a8a20','O1':'#14145a','Oz':'#702020'}[datum.s]","as":"col"}],"mark":{"type":"rule","strokeWidth":1},"encoding":{"x2":{"datum":0.507},"color":{"field":"col","type":"nominal","scale":null,"legend":null}}},
   {"data":{"name":"leg2"},"transform":[{"calculate":"0.516","as":"t"}],"mark":{"type":"text","font":"Liberation Serif","fontSize":10.5,"fontWeight":"bold","align":"left","color":"#222"},"encoding":{"text":{"datum":"IEF"}}},
   {"data":{"name":"leg2"},"transform":[{"calculate":"0.559","as":"t"},{"calculate":"datum.v-0.095","as":"vs"}],"mark":{"type":"text","font":"Liberation Serif","fontSize":5.5,"fontWeight":"bold","align":"left","color":"#222"},"encoding":{"y":{"field":"vs","type":"quantitative","scale":{"domain":[-1.49,1.484],"nice":false,"zero":false},"axis":null},"text":{"field":"sub"}}}
  ]},
{"width":20,"height":24,"data":{"values":[{}]},"mark":{"type":"point","opacity":0},"encoding":{}},
{"width":400,"height":160,
 "resolve":{"scale":{"x":"independent","y":"independent","color":"independent"},"axis":{"x":"independent","y":"independent"}},
 "layer":[
 {"encoding":{"x":{"field":"x","type":"quantitative","scale":{"domain":[-123.8,276.2],"nice":false,"zero":false},"axis":null},"y":{"field":"y","type":"quantitative","scale":{"domain":[-76.7,83.3],"nice":false,"zero":false},"axis":null}},
  "layer":[
   {"data":{"values":[{"x":0,"y":0}]},"mark":{"type":"point","shape":"M-1,0C-1,-.295 -.5523,-.534 0,-.534C.5523,-.534 1,-.295 1,0C1,.295 .5523,.534 0,.534C-.5523,.534 -1,.295 -1,0Z","size":32041,"filled":false,"fill":"transparent","stroke":"#222","strokeWidth":0.9,"opacity":1}},
   {"data":{"name":"nodes"},"mark":{"type":"text","font":"Liberation Serif","fontSize":7.5,"color":"#444"},"encoding":{"text":{"field":"ch"}}},
   {"data":{"name":"e_c"},
    "transform":[{"lookup":"from","from":{"data":{"name":"nodes"},"key":"ch","fields":["x","y"]},"as":["fx","fy"]},{"lookup":"to","from":{"data":{"name":"nodes"},"key":"ch","fields":["x","y"]},"as":["tx","ty"]},{"calculate":"datum.tx-datum.fx","as":"dx"},{"calculate":"datum.ty-datum.fy","as":"dy"},{"calculate":"sqrt(datum.dx*datum.dx+datum.dy*datum.dy)","as":"d"},{"calculate":"datum.dx/datum.d","as":"ux"},{"calculate":"datum.dy/datum.d","as":"uy"},{"calculate":"datum.fx+datum.ux*(6+5*abs(datum.ux))+datum.uy*1.1","as":"x"},{"calculate":"datum.fy+datum.uy*(6+5*abs(datum.ux))-datum.ux*1.1","as":"y"},{"calculate":"datum.tx-datum.ux*(9+5*abs(datum.ux))+datum.uy*1.1","as":"hx"},{"calculate":"datum.ty-datum.uy*(9+5*abs(datum.ux))-datum.ux*1.1","as":"hy"},{"calculate":"atan2(datum.dx,datum.dy)*180/PI","as":"ang"}],
    "layer":[
     {"mark":{"type":"rule","strokeWidth":1.2},"encoding":{"x2":{"field":"hx"},"y2":{"field":"hy"},"color":{"field":"v","type":"quantitative","scale":{"domain":[0,0.08,0.16,0.24,0.32,0.4],"range":["#000000","#6e0000","#e61414","#ff8c1e","#ffe632","#ffffff"]},"legend":null}}},
     {"mark":{"type":"point","shape":"M0,-1L.8,1L0,.5L-.8,1Z","size":50,"filled":true,"opacity":1},"encoding":{"color":{"field":"v","type":"quantitative","scale":{"domain":[0,0.08,0.16,0.24,0.32,0.4],"range":["#000000","#6e0000","#e61414","#ff8c1e","#ffe632","#ffffff"]},"legend":null},"x":{"field":"hx","type":"quantitative","scale":{"domain":[-123.8,276.2],"nice":false,"zero":false},"axis":null},"y":{"field":"hy","type":"quantitative","scale":{"domain":[-76.7,83.3],"nice":false,"zero":false},"axis":null},"angle":{"field":"ang","type":"quantitative","scale":null}}}
    ]},
   {"data":{"values":[{"x":-114.8,"y":71.3,"label":"( c ) ADTF causal structure and values ("},{"x":117.2,"y":71.3,"label":"< 0.01)"}]},"mark":{"type":"text","font":"Liberation Serif","fontSize":13.6,"align":"left","color":"#222"},"encoding":{"text":{"field":"label"}}},
   {"data":{"values":[{"x":102.7,"y":71.3,"label":"p"}]},"mark":{"type":"text","font":"Liberation Serif","fontSize":13.6,"fontStyle":"italic","align":"left","color":"#222"},"encoding":{"text":{"field":"label"}}}
  ]},
 {"data":{"values":[{"v":0},{"v":0.4}]},"mark":{"type":"rect"},"encoding":{"x":{"value":5},"x2":{"value":5},"y":{"value":5},"y2":{"value":5},"color":{"field":"v","type":"quantitative","scale":{"domain":[0,0.08,0.16,0.24,0.32,0.4],"range":["#000000","#6e0000","#e61414","#ff8c1e","#ffe632","#ffffff"]},"legend":{"orient":"none","legendX":9,"legendY":54.3,"gradientLength":73,"gradientThickness":10,"title":null,"labelFont":"Liberation Sans","labelFontSize":7,"labelColor":"#333","labelOffset":1,"gradientStrokeColor":"#000","gradientStrokeWidth":0.6,"values":[0,0.1,0.2,0.3,0.4],"format":".1~f"}}}},
 {"encoding":{
    "x":{"field":"x","type":"quantitative","scale":{"domain":[-68.31,38.13],"nice":false,"zero":false},"axis":{"orient":"top","offset":-28,"values":[2,6,10,14,18,22,26,30,34],"labelExpr":"['P1','Pz','P2','PO3','POz','PO4','O1','Oz','O2'][floor(datum.value/4)]","title":null,"domain":false,"ticks":false,"labelFont":"Liberation Serif","labelFontSize":7.5,"labelColor":"#555","labelPadding":2}},
    "x2":{"field":"x2"},
    "y":{"field":"y","type":"quantitative","scale":{"domain":[33.62,-7.13],"nice":false,"zero":false},"axis":{"offset":-256.7,"values":[1.5,4.5,7.5,10.5,13.5,16.5,19.5,22.5,25.5],"labelExpr":"['P1','Pz','P2','PO3','POz','PO4','O1','Oz','O2'][floor(datum.value/3)]","title":null,"domain":false,"ticks":false,"labelFont":"Liberation Serif","labelFontSize":7.5,"labelColor":"#555","labelAlign":"left","labelPadding":12}},
    "y2":{"field":"y2"}
  },
  "layer":[
   {"data":{"values":[{"x":0,"x2":36,"y":0,"y2":27}]},"mark":{"type":"rect","color":"#000"}},
   {"data":{"name":"hc"},"transform":[{"calculate":"datum.x+1","as":"x2"},{"calculate":"datum.y+1","as":"y2"},{"calculate":"datum.v*0.8","as":"v"}],"mark":{"type":"rect"},
    "encoding":{"color":{"field":"v","type":"quantitative","scale":{"domain":[0,0.1,0.2,0.3,0.4,0.5],"range":["#000000","#6e0000","#e61414","#ff8c1e","#ffe632","#ffffff"]},"legend":{"orient":"none","legendX":215.7,"legendY":54.3,"gradientLength":73,"gradientThickness":10,"title":null,"labelFont":"Liberation Sans","labelFontSize":7,"labelColor":"#333","labelOffset":1,"gradientStrokeColor":"#000","gradientStrokeWidth":0.6,"values":[0,0.1,0.2,0.3,0.4,0.5],"format":".1~f"}}}}
  ]}
 ]},
{"width":400,"height":145,
 "resolve":{"scale":{"x":"independent","y":"independent","color":"independent"},"axis":{"x":"independent","y":"independent"}},
 "layer":[
 {"encoding":{"x":{"field":"x","type":"quantitative","scale":{"domain":[-123.8,276.2],"nice":false,"zero":false},"axis":null},"y":{"field":"y","type":"quantitative","scale":{"domain":[-65.7,79.3],"nice":false,"zero":false},"axis":null}},
  "layer":[
   {"data":{"values":[{"x":0,"y":0}]},"mark":{"type":"point","shape":"M-1,0C-1,-.295 -.5523,-.534 0,-.534C.5523,-.534 1,-.295 1,0C1,.295 .5523,.534 0,.534C-.5523,.534 -1,.295 -1,0Z","size":32041,"filled":false,"fill":"transparent","stroke":"#222","strokeWidth":0.9,"opacity":1}},
   {"data":{"name":"nodes"},"mark":{"type":"text","font":"Liberation Serif","fontSize":7.5,"color":"#444"},"encoding":{"text":{"field":"ch"}}},
   {"data":{"name":"e_d"},
    "transform":[{"lookup":"from","from":{"data":{"name":"nodes"},"key":"ch","fields":["x","y"]},"as":["fx","fy"]},{"lookup":"to","from":{"data":{"name":"nodes"},"key":"ch","fields":["x","y"]},"as":["tx","ty"]},{"calculate":"datum.tx-datum.fx","as":"dx"},{"calculate":"datum.ty-datum.fy","as":"dy"},{"calculate":"sqrt(datum.dx*datum.dx+datum.dy*datum.dy)","as":"d"},{"calculate":"datum.dx/datum.d","as":"ux"},{"calculate":"datum.dy/datum.d","as":"uy"},{"calculate":"datum.fx+datum.ux*(6+5*abs(datum.ux))+datum.uy*1.1","as":"x"},{"calculate":"datum.fy+datum.uy*(6+5*abs(datum.ux))-datum.ux*1.1","as":"y"},{"calculate":"datum.tx-datum.ux*(9+5*abs(datum.ux))+datum.uy*1.1","as":"hx"},{"calculate":"datum.ty-datum.uy*(9+5*abs(datum.ux))-datum.ux*1.1","as":"hy"},{"calculate":"atan2(datum.dx,datum.dy)*180/PI","as":"ang"}],
    "layer":[
     {"mark":{"type":"rule","strokeWidth":1.2},"encoding":{"x2":{"field":"hx"},"y2":{"field":"hy"},"color":{"field":"v","type":"quantitative","scale":{"domain":[0,0.04,0.08,0.12,0.16,0.2],"range":["#000000","#6e0000","#e61414","#ff8c1e","#ffe632","#ffffff"]},"legend":null}}},
     {"mark":{"type":"point","shape":"M0,-1L.8,1L0,.5L-.8,1Z","size":50,"filled":true,"opacity":1},"encoding":{"color":{"field":"v","type":"quantitative","scale":{"domain":[0,0.04,0.08,0.12,0.16,0.2],"range":["#000000","#6e0000","#e61414","#ff8c1e","#ffe632","#ffffff"]},"legend":null},"x":{"field":"hx","type":"quantitative","scale":{"domain":[-123.8,276.2],"nice":false,"zero":false},"axis":null},"y":{"field":"hy","type":"quantitative","scale":{"domain":[-65.7,79.3],"nice":false,"zero":false},"axis":null},"angle":{"field":"ang","type":"quantitative","scale":null}}}
    ]},
   {"data":{"values":[{"x":-114.8,"y":69.3,"label":"( d ) time-lagged ADTF causal structure and values ("},{"x":184.7,"y":69.3,"label":"< 0.01)"}]},"mark":{"type":"text","font":"Liberation Serif","fontSize":13.6,"align":"left","color":"#222"},"encoding":{"text":{"field":"label"}}},
   {"data":{"values":[{"x":174.7,"y":69.3,"label":"p"}]},"mark":{"type":"text","font":"Liberation Serif","fontSize":13.6,"fontStyle":"italic","align":"left","color":"#222"},"encoding":{"text":{"field":"label"}}}
  ]},
 {"data":{"values":[{"v":0},{"v":0.2}]},"mark":{"type":"rect"},"encoding":{"x":{"value":5},"x2":{"value":5},"y":{"value":5},"y2":{"value":5},"color":{"field":"v","type":"quantitative","scale":{"domain":[0,0.04,0.08,0.12,0.16,0.2],"range":["#000000","#6e0000","#e61414","#ff8c1e","#ffe632","#ffffff"]},"legend":{"orient":"none","legendX":9,"legendY":51.7,"gradientLength":73,"gradientThickness":10,"title":null,"labelFont":"Liberation Sans","labelFontSize":7,"labelColor":"#333","labelOffset":1,"gradientStrokeColor":"#000","gradientStrokeWidth":0.6,"values":[0,0.1,0.2],"format":".1~f"}}}},
 {"encoding":{
    "x":{"field":"x","type":"quantitative","scale":{"domain":[-68.31,38.13],"nice":false,"zero":false},"axis":{"orient":"top","offset":-29,"values":[2,6,10,14,18,22,26,30,34],"labelExpr":"['P1','Pz','P2','PO3','POz','PO4','O1','Oz','O2'][floor(datum.value/4)]","title":null,"domain":false,"ticks":false,"labelFont":"Liberation Serif","labelFontSize":7.5,"labelColor":"#555","labelPadding":2}},
    "x2":{"field":"x2"},
    "y":{"field":"y","type":"quantitative","scale":{"domain":[29.55,-7.387],"nice":false,"zero":false},"axis":{"offset":-256.7,"values":[1.5,4.5,7.5,10.5,13.5,16.5,19.5,22.5,25.5],"labelExpr":"['P1','Pz','P2','PO3','POz','PO4','O1','Oz','O2'][floor(datum.value/3)]","title":null,"domain":false,"ticks":false,"labelFont":"Liberation Serif","labelFontSize":7.5,"labelColor":"#555","labelAlign":"left","labelPadding":12}},
    "y2":{"field":"y2"}
  },
  "layer":[
   {"data":{"values":[{"x":0,"x2":36,"y":0,"y2":27}]},"mark":{"type":"rect","color":"#000"}},
   {"data":{"name":"hd"},"transform":[{"calculate":"datum.x+1","as":"x2"},{"calculate":"datum.y+1","as":"y2"},{"calculate":"datum.v*0.85","as":"v"}],"mark":{"type":"rect"},
    "encoding":{"color":{"field":"v","type":"quantitative","scale":{"domain":[0,0.1,0.2,0.3,0.4,0.5],"range":["#000000","#6e0000","#e61414","#ff8c1e","#ffe632","#ffffff"]},"legend":{"orient":"none","legendX":215.7,"legendY":51.7,"gradientLength":73,"gradientThickness":10,"title":null,"labelFont":"Liberation Sans","labelFontSize":7,"labelColor":"#333","labelOffset":1,"gradientStrokeColor":"#000","gradientStrokeWidth":0.6,"values":[0,0.1,0.2,0.3,0.4,0.5],"format":".1~f"}}}}
  ]}
 ]}
]
}
